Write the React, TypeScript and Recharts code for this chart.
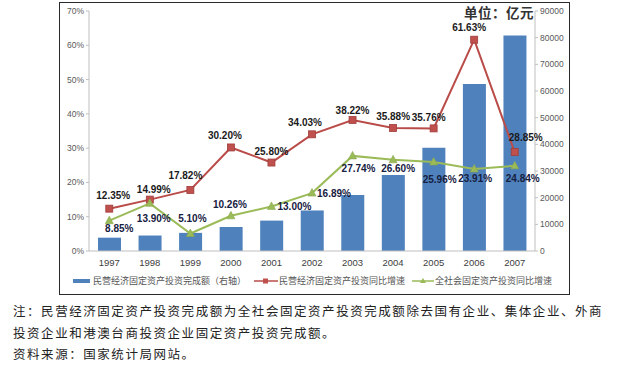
import React from 'react';
import { ComposedChart, Bar, Line, XAxis, YAxis, LabelList } from 'recharts';

const years = ['1997', '1998', '1999', '2000', '2001', '2002', '2003', '2004', '2005', '2006', '2007'];
const privateInvestment = [5000, 5800, 6800, 9000, 11400, 15200, 21000, 28500, 38700, 62600, 80800];
const privateGrowth = [12.35, 14.99, 17.82, 30.2, 25.8, 34.03, 38.22, 35.88, 35.76, 61.63, 28.85];
const totalGrowth = [8.85, 13.9, 5.1, 10.26, 13.0, 16.89, 27.74, 26.6, 25.96, 23.91, 24.84];
const leftTicks = [0, 10, 20, 30, 40, 50, 60, 70];
const rightTicks = [0, 10000, 20000, 30000, 40000, 50000, 60000, 70000, 80000, 90000];

const legendNames = ['民营经济固定资产投资完成额（右轴）', '民营经济固定资产投资同比增速', '全社会固定资产投资同比增速'];
const unitText = '单位：亿元';
const noteLines = [
  '注：民营经济固定资产投资完成额为全社会固定资产投资完成额除去国有企业、集体企业、外商',
  '投资企业和港澳台商投资企业固定资产投资完成额。',
  '资料来源：国家统计局网站。',
];

// label placement (pixel offsets from each point)
const redLabelOffsets = [[4, -13], [4, -10], [-5, -14], [-6, -12], [0, -11], [-7, -12], [0, -9], [0, -11], [-5, -11], [-5, -12], [11, -15]];
const greenLabelOffsets = [[10, 8], [4, 15], [2, -15], [-1, -11], [23, 0], [22, 0], [6, 13], [5, 9], [6, 18], [1, 9], [8, 13]];

const data = years.map((y, i) => ({
  year: y,
  inv: privateInvestment[i],
  pg: privateGrowth[i],
  tg: totalGrowth[i],
}));

const BAR = '#4f81bd';
const RED = '#b94c49';
const GREEN = '#9bbb59';

const fmt = (v: number) => v.toFixed(2) + '%';

const makeLabel = (offsets: number[][], color: string) => (props: any) => {
  const { x, y, index, value } = props;
  const o = offsets[index] || [0, -10];
  return (
    <text
      x={x + o[0]}
      y={y + o[1]}
      textAnchor="middle"
      dominantBaseline="central"
      fontSize={10}
      fontWeight="bold"
      fontFamily="Liberation Sans, Arial, sans-serif"
      fill={color}
    >
      {fmt(Number(value))}
    </text>
  );
};

const Square = (props: any) => {
  const { cx, cy } = props;
  if (cx == null || cy == null) return null;
  return <rect x={cx - 3.5} y={cy - 3.5} width={7} height={7} fill="#c0504d" stroke="#a03e3b" strokeWidth={0.8} />;
};

const Tri = (props: any) => {
  const { cx, cy } = props;
  if (cx == null || cy == null) return null;
  return <polygon points={`${cx},${cy - 4.5} ${cx + 4},${cy + 3} ${cx - 4},${cy + 3}`} fill={GREEN} stroke="#8aa84c" strokeWidth={0.6} />;
};

export default function App() {
  return (
    <div style={{ position: 'absolute', left: 0, top: 0, width: 618, height: 391, background: '#fff', overflow: 'hidden' }}>
      <div
        style={{
          position: 'absolute',
          left: 59,
          top: 2,
          width: 511,
          height: 293,
          border: '1.5px solid #2a2a2a',
          boxSizing: 'border-box',
        }}
      />
      <div style={{ position: 'absolute', left: 0, top: 0 }}>
        <ComposedChart
          width={618}
          height={300}
          data={data}
          margin={{ top: 11, right: 49, left: 59, bottom: 29 }}
        >
          <XAxis
            dataKey="year"
            height={20}
            tick={{ fontSize: 9.5, fill: '#404040', fontFamily: 'Liberation Sans, Arial, sans-serif' }}
            tickLine={false}
            axisLine={{ stroke: '#bfbfbf' }}
            interval={0}
          />
          <YAxis
            yAxisId="left"
            orientation="left"
            width={30}
            domain={[0, 70]}
            ticks={leftTicks}
            tickFormatter={(v: number) => `${v}%`}
            tick={{ fontSize: 8.5, fill: '#595959', fontFamily: 'Liberation Sans, Arial, sans-serif' }}
            tickSize={3}
            tickLine={{ stroke: '#bfbfbf' }}
            axisLine={{ stroke: '#bfbfbf' }}
          />
          <YAxis
            yAxisId="right"
            orientation="right"
            width={34}
            domain={[0, 90000]}
            ticks={rightTicks}
            tick={{ fontSize: 8.5, fill: '#595959', fontFamily: 'Liberation Sans, Arial, sans-serif' }}
            tickSize={3}
            tickLine={{ stroke: '#bfbfbf' }}
            axisLine={{ stroke: '#bfbfbf' }}
          />
          <Bar yAxisId="right" dataKey="inv" fill={BAR} barSize={23} isAnimationActive={false} />
          <Line
            yAxisId="left"
            dataKey="pg"
            stroke={RED}
            strokeWidth={2}
            dot={<Square />}
            activeDot={false}
            isAnimationActive={false}
          >
            <LabelList dataKey="pg" content={makeLabel(redLabelOffsets, '#1a1a1a')} />
          </Line>
          <Line
            yAxisId="left"
            dataKey="tg"
            stroke={GREEN}
            strokeWidth={2}
            dot={<Tri />}
            activeDot={false}
            isAnimationActive={false}
          >
            <LabelList dataKey="tg" content={makeLabel(greenLabelOffsets, '#16203f')} />
          </Line>
        </ComposedChart>
      </div>

      <div
        style={{
          position: 'absolute',
          left: 464,
          top: 4,
          fontSize: 13.5,
          fontWeight: 'bold',
          color: '#333',
          fontFamily: 'Noto Sans CJK SC, sans-serif',
          letterSpacing: 0.5,
          lineHeight: '17px',
        }}
      >
        {unitText}
      </div>

      <div
        style={{
          position: 'absolute',
          left: 73,
          top: 274,
          fontSize: 9,
          color: '#555',
          fontFamily: 'Noto Sans CJK SC, sans-serif',
          lineHeight: '14px',
          whiteSpace: 'nowrap',
          display: 'flex',
          alignItems: 'center',
        }}
      >
        <span style={{ display: 'inline-block', width: 17, height: 4, background: BAR, marginRight: 3 }} />
        <span>{legendNames[0]}</span>
        <svg width={24} height={8} style={{ marginLeft: 8, marginRight: 1 }}>
          <line x1={0} y1={4} x2={24} y2={4} stroke={RED} strokeWidth={1.5} />
          <rect x={9} y={1.5} width={5} height={5} fill="#c0504d" />
        </svg>
        <span>{legendNames[1]}</span>
        <svg width={22} height={8} style={{ marginLeft: 7, marginRight: 1 }}>
          <line x1={0} y1={4} x2={22} y2={4} stroke={GREEN} strokeWidth={1.5} />
          <polygon points="11,1 14,6 8,6" fill={GREEN} />
        </svg>
        <span>{legendNames[2]}</span>
      </div>

      <div
        style={{
          position: 'absolute',
          left: 13,
          top: 300,
          fontSize: 12.5,
          letterSpacing: 1.55,
          color: '#222',
          fontFamily: 'Noto Sans CJK SC, sans-serif',
          lineHeight: '21.5px',
          whiteSpace: 'nowrap',
        }}
      >
        {noteLines.map((l, i) => (
          <div key={i}>{l}</div>
        ))}
      </div>
    </div>
  );
}
